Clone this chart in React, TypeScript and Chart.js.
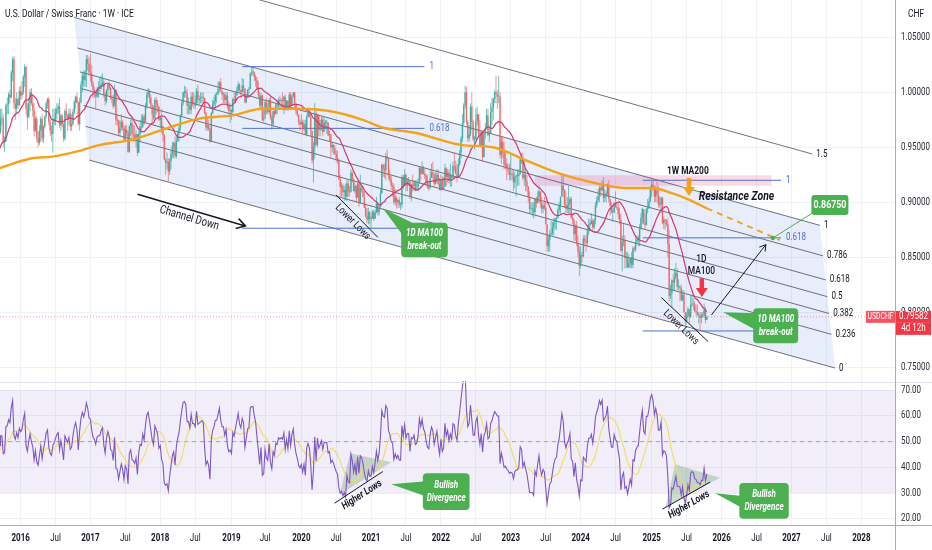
import React, { useEffect, useRef } from 'react';
import { Chart, registerables } from 'chart.js';

Chart.register(...registerables);

// ================= DATA =================
// Weekly USD/CHF (ICE) candles as [high, low, close]; each week opens at the previous close.
// First week: Monday 2 Mar 2015 (weeks before the visible range warm up the indicators).
const FIRST_OPEN = 0.955;
const w2015 = [
  [0.992,0.953,0.988],[1.013,0.988,1.008],[1.012,0.960,0.968],[0.975,0.954,0.963],[0.977,0.950,0.952],
  [0.985,0.952,0.978],[0.980,0.950,0.955],[0.962,0.945,0.952],[0.955,0.925,0.933],
  [0.940,0.920,0.923],[0.930,0.907,0.919],[0.940,0.915,0.933],[0.955,0.930,0.940],
  [0.950,0.925,0.929],[0.940,0.920,0.926],[0.935,0.910,0.915],[0.945,0.913,0.936],[0.945,0.925,0.941],
  [0.950,0.930,0.943],[0.965,0.940,0.961],[0.963,0.950,0.958],[0.975,0.955,0.969],
  [0.985,0.968,0.983],[0.990,0.965,0.974],[0.978,0.945,0.948],[0.965,0.926,0.961],[0.975,0.955,0.973],
  [0.980,0.965,0.970],[0.980,0.960,0.964],[0.985,0.962,0.976],[0.985,0.970,0.976],
  [0.980,0.950,0.954],[0.960,0.946,0.955],[0.990,0.955,0.988],[0.995,0.980,0.989],
  [1.000,0.980,0.998],[1.002,0.990,0.995],[1.020,0.995,1.018],[1.032,1.010,1.030],[1.033,0.985,0.990],
  [0.995,0.975,0.985],[1.000,0.980,0.994],[0.995,0.985,0.988],[1.005,0.988,1.001],
];
const w2016 = [
  [1.006,0.993,0.997],[1.010,0.994,1.000],[1.016,0.998,1.014],[1.026,1.005,1.023],
  [1.024,0.980,0.985],[0.990,0.966,0.977],[0.995,0.978,0.990],[1.003,0.983,1.000],[1.004,0.988,0.990],
  [0.997,0.978,0.984],[0.990,0.960,0.965],[0.978,0.964,0.976],[0.978,0.955,0.959],
  [0.965,0.950,0.954],[0.970,0.952,0.965],[0.978,0.955,0.976],[0.980,0.955,0.958],
  [0.970,0.954,0.969],[0.979,0.967,0.978],[0.992,0.976,0.990],[0.995,0.985,0.994],[0.996,0.970,0.973],
  [0.975,0.960,0.965],[0.970,0.955,0.962],[0.985,0.945,0.973],[0.985,0.970,0.976],
  [0.986,0.970,0.981],[0.990,0.975,0.985],[0.990,0.980,0.987],[0.995,0.968,0.970],
  [0.980,0.965,0.979],[0.980,0.968,0.971],[0.972,0.955,0.958],[0.985,0.956,0.983],[0.990,0.975,0.979],
  [0.980,0.965,0.976],[0.985,0.970,0.981],[0.985,0.965,0.969],[0.980,0.965,0.971],
  [0.985,0.970,0.982],[0.993,0.980,0.991],[0.997,0.985,0.996],[1.000,0.990,0.990],[0.992,0.970,0.971],
  [0.995,0.965,0.991],[1.010,0.990,1.007],[1.018,1.000,1.015],[1.020,1.005,1.011],
  [1.020,1.005,1.018],[1.034,1.005,1.030],[1.034,1.020,1.026],[1.032,1.015,1.018],
];
const w2017 = [
  [1.035,1.010,1.017],[1.025,1.005,1.008],[1.010,0.995,1.002],[1.005,0.995,1.000],[1.000,0.985,0.996],
  [1.005,0.995,1.002],[1.010,0.995,1.003],[1.013,1.000,1.003],[1.015,1.003,1.007],
  [1.017,1.005,1.009],[1.012,0.995,0.998],[1.000,0.988,0.992],[1.003,0.990,1.002],
  [1.008,0.997,1.007],[1.010,1.002,1.004],[1.005,0.993,0.995],[0.997,0.990,0.994],
  [0.998,0.985,0.987],[1.007,0.990,1.002],[1.003,0.970,0.975],[0.980,0.970,0.974],[0.975,0.960,0.963],
  [0.975,0.960,0.968],[0.980,0.965,0.973],[0.975,0.965,0.968],[0.970,0.955,0.957],
  [0.970,0.955,0.966],[0.970,0.960,0.963],[0.965,0.945,0.946],[0.970,0.945,0.969],[0.975,0.960,0.972],
  [0.975,0.955,0.962],[0.970,0.955,0.961],[0.970,0.955,0.958],[0.965,0.950,0.962],
  [0.962,0.942,0.945],[0.965,0.945,0.962],[0.975,0.955,0.969],[0.980,0.965,0.968],
  [0.980,0.970,0.978],[0.980,0.970,0.973],[0.990,0.975,0.987],[1.000,0.985,0.998],[1.004,0.995,1.001],
  [1.003,0.990,0.995],[0.998,0.985,0.988],[0.990,0.970,0.980],[0.988,0.975,0.976],
  [0.995,0.980,0.993],[0.996,0.980,0.990],[0.993,0.982,0.987],[0.987,0.974,0.975],
];
const w2018 = [
  [0.978,0.968,0.977],[0.985,0.963,0.965],[0.970,0.955,0.961],[0.962,0.938,0.939],[0.940,0.925,0.936],
  [0.945,0.930,0.937],[0.940,0.919,0.928],[0.940,0.925,0.937],[0.947,0.930,0.944],
  [0.955,0.940,0.951],[0.955,0.940,0.954],[0.960,0.940,0.942],[0.960,0.940,0.956],
  [0.965,0.955,0.963],[0.970,0.955,0.968],[0.980,0.965,0.979],[0.993,0.978,0.990],[1.000,0.988,1.000],
  [1.006,0.995,1.001],[1.005,0.995,0.999],[1.003,0.980,0.988],[0.995,0.980,0.988],
  [0.990,0.980,0.984],[1.000,0.980,0.996],[1.000,0.987,0.990],[1.000,0.985,0.990],
  [0.997,0.985,0.988],[1.004,0.990,1.001],[1.007,0.990,0.993],[0.997,0.988,0.994],[1.000,0.990,0.995],
  [1.000,0.990,0.996],[1.000,0.990,0.995],[0.995,0.980,0.981],[0.982,0.965,0.968],
  [0.976,0.965,0.970],[0.975,0.965,0.967],[0.968,0.954,0.955],[0.982,0.955,0.981],
  [0.993,0.980,0.989],[0.996,0.985,0.992],[0.999,0.985,0.998],[1.000,0.990,0.998],[1.010,0.998,1.003],
  [1.010,1.000,1.009],[1.013,1.000,1.002],[1.000,0.993,0.998],[1.000,0.990,0.998],
  [1.000,0.990,0.993],[1.000,0.990,0.997],[1.000,0.985,0.987],[0.992,0.980,0.983],
];
const w2019 = [
  [0.990,0.972,0.984],[0.985,0.975,0.982],[0.995,0.980,0.994],[1.000,0.990,0.992],[1.000,0.990,0.997],
  [1.005,0.997,1.002],[1.010,1.000,1.007],[1.008,1.000,1.002],[1.002,0.995,1.000],
  [1.013,1.000,1.006],[1.012,1.000,1.004],[1.003,0.990,0.991],[0.998,0.990,0.996],
  [1.003,0.995,1.002],[1.005,0.998,1.003],[1.018,1.003,1.017],[1.024,1.015,1.018],[1.024,1.015,1.018],
  [1.019,1.010,1.014],[1.016,1.005,1.011],[1.014,1.003,1.004],[1.010,0.995,0.997],
  [1.000,0.985,0.988],[1.000,0.985,0.997],[0.998,0.974,0.975],[0.985,0.973,0.976],
  [0.993,0.980,0.991],[0.995,0.980,0.984],[0.990,0.980,0.982],[0.995,0.980,0.993],[0.997,0.975,0.977],
  [0.980,0.966,0.971],[0.983,0.968,0.983],[0.985,0.977,0.980],[0.990,0.980,0.989],
  [0.993,0.980,0.988],[0.995,0.985,0.993],[0.997,0.985,0.992],[0.995,0.985,0.993],[1.000,0.988,0.992],
  [0.997,0.980,0.996],[0.998,0.983,0.986],[0.993,0.985,0.992],[0.993,0.983,0.986],
  [1.000,0.985,0.998],[1.000,0.988,0.988],[0.998,0.988,0.996],[1.000,0.995,1.000],
  [1.000,0.985,0.990],[0.990,0.980,0.983],[0.985,0.978,0.979],[0.980,0.970,0.973],
];
const w2020 = [
  [0.975,0.965,0.971],[0.980,0.970,0.973],[0.975,0.963,0.967],[0.975,0.965,0.971],[0.975,0.961,0.962],
  [0.980,0.960,0.978],[0.985,0.977,0.981],[0.986,0.977,0.978],[0.980,0.960,0.965],
  [0.965,0.935,0.938],[0.955,0.918,0.950],[0.990,0.940,0.981],[0.985,0.952,0.952],[0.980,0.950,0.979],
  [0.980,0.960,0.966],[0.975,0.960,0.970],[0.978,0.965,0.975],[0.978,0.960,0.964],
  [0.977,0.965,0.972],[0.975,0.967,0.972],[0.975,0.962,0.972],[0.973,0.960,0.961],
  [0.965,0.955,0.962],[0.960,0.940,0.950],[0.955,0.945,0.952],[0.953,0.943,0.949],[0.952,0.943,0.944],
  [0.947,0.937,0.940],[0.947,0.935,0.937],[0.940,0.920,0.921],[0.925,0.905,0.914],
  [0.918,0.905,0.915],[0.917,0.905,0.909],[0.915,0.901,0.911],[0.917,0.902,0.905],[0.920,0.901,0.917],
  [0.920,0.905,0.910],[0.915,0.905,0.909],[0.930,0.910,0.927],[0.928,0.918,0.921],
  [0.922,0.910,0.910],[0.918,0.908,0.915],[0.915,0.900,0.904],[0.920,0.905,0.917],
  [0.920,0.896,0.899],[0.925,0.899,0.913],[0.916,0.909,0.911],[0.915,0.905,0.905],[0.910,0.895,0.895],
  [0.898,0.886,0.887],[0.895,0.881,0.884],[0.895,0.880,0.891],[0.892,0.880,0.885],
];
const w2021 = [
  [0.887,0.876,0.885],[0.893,0.885,0.891],[0.893,0.883,0.885],[0.893,0.885,0.891],
  [0.905,0.890,0.899],[0.900,0.888,0.891],[0.898,0.888,0.896],[0.913,0.895,0.908],
  [0.935,0.908,0.934],[0.935,0.923,0.930],[0.935,0.922,0.929],[0.945,0.920,0.942],[0.948,0.938,0.940],
  [0.940,0.920,0.924],[0.930,0.918,0.921],[0.924,0.911,0.915],[0.918,0.905,0.914],
  [0.917,0.898,0.900],[0.912,0.897,0.904],[0.906,0.894,0.900],[0.903,0.895,0.902],[0.905,0.895,0.898],
  [0.900,0.893,0.898],[0.925,0.895,0.923],[0.925,0.912,0.915],[0.930,0.915,0.925],
  [0.926,0.910,0.915],[0.922,0.910,0.919],[0.923,0.915,0.919],[0.920,0.903,0.905],
  [0.917,0.901,0.916],[0.925,0.910,0.915],[0.920,0.910,0.918],[0.920,0.910,0.911],[0.920,0.911,0.912],
  [0.922,0.914,0.917],[0.932,0.918,0.931],[0.932,0.920,0.926],[0.937,0.925,0.932],
  [0.933,0.925,0.926],[0.930,0.921,0.924],[0.926,0.915,0.918],[0.925,0.912,0.914],
  [0.918,0.910,0.913],[0.930,0.912,0.922],[0.935,0.922,0.927],[0.937,0.921,0.925],[0.927,0.914,0.917],
  [0.927,0.916,0.921],[0.930,0.917,0.925],[0.930,0.915,0.917],[0.922,0.911,0.911],
];
const w2022 = [
  [0.925,0.911,0.920],[0.924,0.911,0.912],[0.923,0.912,0.914],[0.935,0.914,0.931],[0.932,0.915,0.923],
  [0.930,0.918,0.927],[0.930,0.917,0.920],[0.935,0.914,0.925],[0.925,0.914,0.922],
  [0.937,0.922,0.933],[0.945,0.928,0.932],[0.938,0.925,0.926],[0.935,0.918,0.923],
  [0.940,0.923,0.935],[0.948,0.933,0.945],[0.960,0.940,0.958],[0.980,0.955,0.972],
  [0.990,0.970,0.988],[1.006,0.985,1.000],[1.005,0.970,0.973],[0.975,0.955,0.958],[0.970,0.955,0.962],
  [0.990,0.960,0.987],[1.000,0.966,0.973],[0.975,0.955,0.957],[0.960,0.948,0.957],
  [0.985,0.957,0.974],[0.987,0.970,0.980],[0.980,0.960,0.962],[0.975,0.950,0.951],
  [0.965,0.952,0.964],[0.965,0.937,0.941],[0.964,0.941,0.962],[0.972,0.958,0.967],[0.985,0.966,0.979],
  [0.985,0.960,0.961],[0.970,0.955,0.963],[0.990,0.963,0.982],[0.995,0.970,0.986],
  [0.995,0.975,0.994],[1.002,0.990,1.000],[1.015,0.990,0.998],[1.002,0.985,0.996],[1.015,0.990,0.996],
  [1.000,0.940,0.943],[0.960,0.935,0.955],[0.960,0.940,0.946],[0.955,0.930,0.934],
  [0.945,0.930,0.935],[0.940,0.920,0.931],[0.935,0.925,0.929],[0.935,0.920,0.925],
];
const w2023 = [
  [0.945,0.920,0.926],[0.930,0.920,0.925],[0.930,0.910,0.918],[0.928,0.913,0.923],[0.925,0.905,0.924],
  [0.930,0.915,0.924],[0.930,0.915,0.926],[0.940,0.925,0.939],[0.945,0.935,0.937],
  [0.945,0.920,0.922],[0.940,0.915,0.925],[0.930,0.910,0.919],[0.925,0.910,0.914],
  [0.915,0.900,0.905],[0.910,0.890,0.894],[0.900,0.890,0.894],[0.900,0.887,0.894],
  [0.900,0.885,0.891],[0.903,0.887,0.903],[0.905,0.895,0.899],[0.910,0.900,0.905],[0.915,0.900,0.910],
  [0.910,0.895,0.899],[0.905,0.890,0.894],[0.900,0.890,0.897],[0.905,0.893,0.895],
  [0.900,0.880,0.880],[0.880,0.855,0.860],[0.870,0.855,0.866],[0.875,0.855,0.871],[0.883,0.870,0.872],
  [0.882,0.870,0.877],[0.886,0.870,0.882],[0.886,0.875,0.885],[0.887,0.875,0.886],
  [0.895,0.885,0.893],[0.900,0.890,0.897],[0.905,0.890,0.905],[0.925,0.905,0.915],
  [0.924,0.905,0.911],[0.912,0.895,0.898],[0.910,0.890,0.894],[0.905,0.890,0.897],[0.915,0.890,0.899],
  [0.905,0.890,0.903],[0.905,0.885,0.886],[0.890,0.880,0.884],[0.885,0.865,0.871],
  [0.880,0.865,0.879],[0.883,0.860,0.863],[0.870,0.850,0.855],[0.860,0.833,0.842],
];
const w2024 = [
  [0.860,0.840,0.852],[0.855,0.845,0.851],[0.870,0.850,0.867],[0.870,0.860,0.865],[0.870,0.855,0.863],
  [0.877,0.860,0.874],[0.885,0.870,0.880],[0.885,0.875,0.880],[0.890,0.880,0.883],
  [0.885,0.875,0.877],[0.885,0.875,0.884],[0.900,0.880,0.897],[0.905,0.895,0.902],
  [0.912,0.900,0.906],[0.915,0.900,0.913],[0.915,0.905,0.911],[0.920,0.910,0.915],[0.923,0.900,0.904],
  [0.912,0.900,0.906],[0.910,0.900,0.908],[0.917,0.905,0.916],[0.920,0.900,0.903],
  [0.903,0.888,0.897],[0.900,0.890,0.891],[0.895,0.882,0.891],[0.900,0.890,0.899],
  [0.910,0.895,0.896],[0.900,0.893,0.895],[0.900,0.885,0.889],[0.895,0.880,0.884],[0.890,0.855,0.856],
  [0.870,0.837,0.864],[0.880,0.860,0.866],[0.870,0.840,0.849],[0.855,0.840,0.850],
  [0.855,0.840,0.841],[0.853,0.840,0.845],[0.850,0.840,0.849],[0.855,0.840,0.843],[0.860,0.840,0.858],
  [0.860,0.855,0.857],[0.868,0.855,0.864],[0.869,0.862,0.866],[0.870,0.860,0.867],
  [0.880,0.860,0.876],[0.890,0.875,0.886],[0.895,0.880,0.894],[0.893,0.880,0.881],
  [0.890,0.875,0.879],[0.895,0.880,0.894],[0.903,0.890,0.894],[0.905,0.895,0.901],[0.915,0.900,0.912],
];
const w2025 = [
  [0.920,0.905,0.916],[0.920,0.910,0.913],[0.915,0.900,0.905],[0.915,0.900,0.911],
  [0.920,0.900,0.907],[0.915,0.895,0.898],[0.905,0.895,0.898],[0.905,0.890,0.904],
  [0.905,0.880,0.881],[0.887,0.876,0.884],[0.885,0.875,0.883],[0.885,0.878,0.880],[0.885,0.850,0.862],
  [0.875,0.810,0.815],[0.825,0.812,0.817],[0.830,0.804,0.829],[0.835,0.820,0.827],
  [0.840,0.820,0.832],[0.845,0.830,0.836],[0.840,0.820,0.823],[0.830,0.820,0.823],
  [0.825,0.810,0.822],[0.825,0.810,0.811],[0.820,0.810,0.816],[0.820,0.800,0.800],[0.800,0.787,0.792],
  [0.800,0.790,0.797],[0.805,0.795,0.803],[0.800,0.790,0.796],[0.815,0.795,0.807],
  [0.815,0.805,0.808],[0.812,0.802,0.807],[0.810,0.800,0.801],[0.807,0.797,0.800],
  [0.807,0.797,0.797],[0.800,0.790,0.797],[0.800,0.783,0.795],[0.800,0.790,0.797],[0.800,0.795,0.797],
  [0.808,0.795,0.802],[0.805,0.790,0.793],[0.797,0.793,0.7958],
];

// 1W MA200 (orange): decimal year / value
const ma200Time = [2015.70, 2016.17, 2016.46, 2016.80, 2017.13, 2017.60, 2018.08, 2018.56, 2019.03, 2019.46, 2019.94, 2020.41, 2020.89, 2021.17, 2021.65, 2022.31, 2022.75, 2023.22, 2023.70, 2024.17, 2024.65, 2025.03, 2025.31, 2025.56, 2025.80];
const ma200Value = [0.931, 0.940, 0.9415, 0.946, 0.952, 0.957, 0.967, 0.976, 0.979, 0.985, 0.985, 0.983, 0.975, 0.968, 0.963, 0.952, 0.950, 0.938, 0.926, 0.918, 0.913, 0.913, 0.908, 0.902, 0.8945];
const ma200ProjTime = [2025.80, 2026.843];
const ma200ProjValue = [0.8945, 0.8657];

// Fib channel: level-0 start (A), level-0 end (B), level-1 start (C) as [decimal year, price]
const channelA = [2016.986, 0.9384];
const channelB = [2027.629, 0.7493];
const channelC = [2016.771, 1.0681];
const channelLevels = [0, 0.236, 0.382, 0.5, 0.618, 0.786, 1, 1.5];
const channelLabels = ['0', '0.236', '0.382', '0.5', '0.618', '0.786', '1', '1.5'];

// Fib retracements (blue)
const fibLevels = [0, 0.618, 1];
const fibLabels = ['0', '0.618', '1'];
const fibLeftTime = [2019.171, 2021.771];
const fibLeftPrice = [0.8764, 1.0233];
const fibRightTime = [2024.886, 2026.859];
const fibRightPrice = [0.7830, 0.9200];

// Resistance zone rectangle
const zoneTime = [2023.343, 2026.724];
const zonePrice = [0.9150, 0.9245];

// Target
const targetTime = 2026.743;
const targetPrice = 0.8675;
const targetText = '0.86750';

// Axis ticks / labels
const priceTicks = [0.75, 0.8, 0.85, 0.9, 0.95, 1.0, 1.05];
const rsiTicks = [20, 30, 40, 50, 60, 70];
const TITLE = 'U.S. Dollar / Swiss Franc · 1W · ICE';
const CURRENCY = 'CHF';
const SYMBOL = 'USDCHF';
const LAST_PRICE = 0.79582;
const LAST_PRICE_TEXT = '0.79582';
const COUNTDOWN = '4d 12h';

// ================= LAYOUT / STYLE =================
const W = 932;
const PRICE_H = 381;
const RSI_H = 169;
const AXIS_W = 37;
const PLOT_W = W - AXIS_W;
const X_MIN = 2015.713;
const X_MAX = X_MIN + PLOT_W / 70.07;
const P_MIN = 0.7375;
const P_MAX = 1.0839;
const R_MIN = 17.67;
const R_MAX = 73.49;

const FONT = 'Roboto, "Noto Sans", sans-serif';
const SX = 0.8;
const INK = '#131722';
const GRID = '#eef1f6';
const AXIS_LINE = '#a9acb5';
const UP = 'rgba(38,166,154,0.72)';
const DOWN = 'rgba(239,83,80,0.68)';
const RED_MA = '#d9346c';
const ORANGE = '#f5a21b';
const CH_LINE = 'rgba(70,72,82,0.85)';
const CH_FILL = 'rgba(90,125,235,0.14)';
const FIB_BLUE = '#4f6fd6';
const ZONE = 'rgba(233,30,99,0.17)';
const GREEN = '#4caf50';
const RSI_COL = '#7e57c2';
const RSI_MA_COL = '#f0db62';

// ================= DERIVED SERIES =================
const weekly = [...w2015, ...w2016, ...w2017, ...w2018, ...w2019, ...w2020, ...w2021, ...w2022, ...w2023, ...w2024, ...w2025];
const DAY = 86400000;
const decYear = (ms: number) => {
  const y = new Date(ms).getUTCFullYear();
  const s = Date.UTC(y, 0, 1);
  const e = Date.UTC(y + 1, 0, 1);
  return y + (ms - s) / (e - s);
};
const START = Date.UTC(2015, 2, 2);
const candles = weekly.map((w, i) => ({
  t: decYear(START + i * 7 * DAY),
  o: i === 0 ? FIRST_OPEN : weekly[i - 1][2],
  h: w[0],
  l: w[1],
  c: w[2],
}));
const closes = candles.map((c) => c.c);

function sma(vals: (number | null)[], n: number) {
  return vals.map((_, i) => {
    if (i < n - 1) return null;
    let s = 0;
    for (let k = i - n + 1; k <= i; k++) {
      const v = vals[k];
      if (v == null) return null;
      s += v;
    }
    return s / n;
  });
}
function rsiOf(v: number[], n: number) {
  const out: (number | null)[] = v.map(() => null);
  let g = 0, l = 0;
  for (let i = 1; i <= n; i++) {
    const d = v[i] - v[i - 1];
    if (d > 0) g += d; else l -= d;
  }
  g /= n; l /= n;
  out[n] = l === 0 ? 100 : 100 - 100 / (1 + g / l);
  for (let i = n + 1; i < v.length; i++) {
    const d = v[i] - v[i - 1];
    g = (g * (n - 1) + Math.max(d, 0)) / n;
    l = (l * (n - 1) + Math.max(-d, 0)) / n;
    out[i] = l === 0 ? 100 : 100 - 100 / (1 + g / l);
  }
  return out;
}
const ma100d = sma(closes, 20); // 1D MA100 ≈ 20 weekly bars
const rsi = rsiOf(closes, 14);
const rsiMa = sma(rsi, 14);

const timeTicks: { v: number; label: string; major: boolean }[] = [];
for (let y = 2015; y <= 2029; y++) {
  for (const m of [0, 6]) {
    const d = new Date(Date.UTC(y, m, 1));
    const add = (8 - d.getUTCDay()) % 7;
    const v = decYear(Date.UTC(y, m, 1 + add));
    if (v > X_MIN && v < X_MAX) timeTicks.push({ v, label: m === 0 ? String(y) : 'Jul', major: m === 0 });
  }
}

const chPoint = (base: number[], L: number) => ({
  x: base[0] + L * (channelC[0] - channelA[0]),
  y: base[1] + L * (channelC[1] - channelA[1]),
});
const chLine = (L: number) => [chPoint(channelA, L), chPoint(channelB, L)];

// ================= ANNOTATIONS (anchored in data space) =================
const priceNotes = {
  channelArrow: [[2017.676, 0.9073], [2019.214, 0.8785]],
  channelText: { t: 2018.414, v: 0.8855, angle: 16.4 },
  lowerLowsL: [[2020.51, 0.9066], [2021.104, 0.8682]],
  lowerLowsLText: { t: 2020.747, v: 0.8821, angle: 45 },
  lowerLowsR: [[2025.153, 0.8133], [2025.819, 0.7733]],
  lowerLowsRText: { t: 2025.433, v: 0.7862, angle: 44 },
  targetArrow: [[2025.867, 0.7976], [2026.643, 0.8615]],
  ma200Text: { t: 2025.529, v: 0.9278 },
  orangeArrow: { t: 2025.547, top: 0.9221, tip: 0.9057 },
  zoneText: { t: 2026.224, v: 0.9051 },
  ma100Text: { t: 2025.724, v1: 0.8477, v2: 0.837 },
  redArrow: { t: 2025.729, top: 0.8309, tip: 0.8139 },
  targetBox: { t: 2027.557, v: 0.8975, w: 37, h: 20 },
};
const priceCallouts = [
  { t: 2021.771, v: 0.8657, w: 46.6, h: 34.6, tipT: 2021.176, tipV: 0.8945, wedge: [[2, 13], [15, 2]], lines: ['1D MA100', 'break-out'] },
  { t: 2026.783, v: 0.7877, w: 45, h: 35, tipT: 2026.033, tipV: 0.8, wedge: [[3, 5], [3, 22]], lines: ['1D MA100', 'break-out'] },
];
const rsiNotes = {
  triangles: [
    [[2020.557, 29.35], [2020.71, 45.5], [2021.296, 42.0]],
    [[2025.214, 24.8], [2025.347, 41.2], [2025.99, 36.0]],
  ],
  lines: [
    [[2020.486, 26.1], [2021.176, 38.4]],
    [[2025.167, 23.8], [2025.847, 34.3]],
  ],
  texts: [
    { t: 2020.879, v: 29.35, angle: -33 },
    { t: 2025.546, v: 25.5, angle: -30 },
  ],
  callouts: [
    { t: 2022.081, v: 30.6, w: 46.7, h: 36.7, tipT: 2021.296, tipV: 33.5, wedge: [[3, 8], [3, 23]], lines: ['Bullish', 'Divergence'] },
    { t: 2026.617, v: 27.0, w: 49.4, h: 35.7, tipT: 2025.919, tipV: 30.0, wedge: [[3, 13], [3, 25]], lines: ['Bullish', 'Divergence'] },
  ],
};

// ================= DRAW HELPERS =================
function txt(ctx: CanvasRenderingContext2D, s: string, x: number, y: number, o: any = {}) {
  ctx.save();
  ctx.translate(x, y);
  if (o.angle) ctx.rotate((o.angle * Math.PI) / 180);
  ctx.scale(o.sx ?? SX, 1);
  ctx.font = `${o.italic ? 'italic ' : ''}${o.weight ?? 400} ${o.size ?? 10}px ${FONT}`;
  ctx.fillStyle = o.color ?? INK;
  ctx.textAlign = o.align ?? 'center';
  ctx.textBaseline = 'middle';
  ctx.fillText(s, 0, 0);
  ctx.restore();
}
function poly(ctx: CanvasRenderingContext2D, pts: number[][], color: string) {
  ctx.beginPath();
  pts.forEach(([x, y], i) => (i ? ctx.lineTo(x, y) : ctx.moveTo(x, y)));
  ctx.closePath();
  ctx.fillStyle = color;
  ctx.fill();
}
function seg(ctx: CanvasRenderingContext2D, x0: number, y0: number, x1: number, y1: number, color: string, w: number) {
  ctx.save();
  ctx.strokeStyle = color;
  ctx.lineWidth = w;
  ctx.beginPath();
  ctx.moveTo(x0, y0);
  ctx.lineTo(x1, y1);
  ctx.stroke();
  ctx.restore();
}
function arrowHead(ctx: CanvasRenderingContext2D, x0: number, y0: number, x1: number, y1: number, len: number, color: string, w: number) {
  const a = Math.atan2(y1 - y0, x1 - x0);
  ctx.save();
  ctx.strokeStyle = color;
  ctx.lineWidth = w;
  ctx.beginPath();
  ctx.moveTo(x1 - len * Math.cos(a - 0.55), y1 - len * Math.sin(a - 0.55));
  ctx.lineTo(x1, y1);
  ctx.lineTo(x1 - len * Math.cos(a + 0.55), y1 - len * Math.sin(a + 0.55));
  ctx.stroke();
  ctx.restore();
}
function downArrow(ctx: CanvasRenderingContext2D, x: number, yTop: number, yTip: number, color: string) {
  const headH = 9, headW = 12, shaftW = 4.5;
  ctx.fillStyle = color;
  ctx.fillRect(x - shaftW / 2, yTop, shaftW, yTip - headH - yTop + 0.5);
  ctx.beginPath();
  ctx.moveTo(x - headW / 2, yTip - headH);
  ctx.lineTo(x + headW / 2, yTip - headH);
  ctx.lineTo(x, yTip);
  ctx.closePath();
  ctx.fill();
}
function roundRect(ctx: CanvasRenderingContext2D, x: number, y: number, w: number, h: number, r: number) {
  ctx.beginPath();
  ctx.moveTo(x + r, y);
  ctx.arcTo(x + w, y, x + w, y + h, r);
  ctx.arcTo(x + w, y + h, x, y + h, r);
  ctx.arcTo(x, y + h, x, y, r);
  ctx.arcTo(x, y, x + w, y, r);
  ctx.closePath();
}
function callout(ctx: CanvasRenderingContext2D, X: (t: number) => number, Y: (v: number) => number, c: any) {
  const cx = X(c.t), cy = Y(c.v);
  const left = cx - c.w / 2, top = cy - c.h / 2;
  ctx.fillStyle = GREEN;
  ctx.beginPath();
  ctx.moveTo(X(c.tipT), Y(c.tipV));
  ctx.lineTo(left + c.wedge[0][0], top + c.wedge[0][1]);
  ctx.lineTo(left + c.wedge[1][0], top + c.wedge[1][1]);
  ctx.closePath();
  ctx.fill();
  roundRect(ctx, left, top, c.w, c.h, 4);
  ctx.fill();
  txt(ctx, c.lines[0], cx, cy - 6.5, { size: 10, weight: 700, italic: true, color: '#fff' });
  txt(ctx, c.lines[1], cx, cy + 6.5, { size: 10, weight: 700, italic: true, color: '#fff' });
}

const line = (data: any[], color: string, width: number, order: number, extra: any = {}) => ({
  type: 'line',
  data,
  borderColor: color,
  backgroundColor: color,
  borderWidth: width,
  pointRadius: 0,
  pointHoverRadius: 0,
  fill: false,
  tension: 0,
  order,
  clip: 0,
  ...extra,
});
const pts = (arr: number[][]) => arr.map(([x, y]) => ({ x, y }));

const xScale = (hideHeight: boolean) => ({
  type: 'linear',
  min: X_MIN,
  max: X_MAX,
  offset: false,
  grid: { color: GRID, drawTicks: false, offset: false },
  border: { display: false },
  ticks: { display: false },
  afterBuildTicks: (s: any) => { s.ticks = timeTicks.map((k) => ({ value: k.v })); },
  afterFit: (s: any) => { s.height = hideHeight ? 0 : RSI_H - 144; },
});

// ================= PRICE CHART =================
function priceConfig(): any {
  const colors = candles.map((c) => (c.c >= c.o ? UP : DOWN));
  const datasets: any[] = [];
  channelLevels.forEach((L) => datasets.push(line(chLine(L), CH_LINE, 0.9, 40)));
  [[fibLeftTime, fibLeftPrice], [fibRightTime, fibRightPrice]].forEach(([tm, pr]) =>
    fibLevels.forEach((L) => {
      const p = pr[0] + L * (pr[1] - pr[0]);
      datasets.push(line([{ x: tm[0], y: p }, { x: tm[1], y: p }], FIB_BLUE, 1, 39));
    }),
  );
  datasets.push({
    type: 'bar', data: candles.map((c) => ({ x: c.t, y: [c.l, c.h] })), backgroundColor: colors,
    barThickness: 0.9, grouped: false, borderWidth: 0, inflateAmount: 0, minBarLength: 1, order: 30, clip: 0,
  });
  datasets.push({
    type: 'bar', data: candles.map((c) => ({ x: c.t, y: [Math.min(c.o, c.c), Math.max(c.o, c.c)] })), backgroundColor: colors,
    barThickness: 1.5, grouped: false, borderWidth: 0, inflateAmount: 0, minBarLength: 1, order: 29, clip: 0,
  });
  datasets.push(line(candles.map((c, i) => ({ x: c.t, y: ma100d[i] })).filter((p) => p.y != null), RED_MA, 1.2, 20, { cubicInterpolationMode: 'monotone' }));
  datasets.push(line(ma200Time.map((t, i) => ({ x: t, y: ma200Value[i] })), ORANGE, 2.4, 19, { cubicInterpolationMode: 'monotone' }));
  datasets.push(line(ma200ProjTime.map((t, i) => ({ x: t, y: ma200ProjValue[i] })), ORANGE, 2, 19, { borderDash: [6, 5] }));
  datasets.push(line(pts(priceNotes.channelArrow), INK, 1.6, 5));
  datasets.push(line(pts(priceNotes.lowerLowsL), INK, 1, 5));
  datasets.push(line(pts(priceNotes.lowerLowsR), INK, 1, 5));
  datasets.push(line(pts(priceNotes.targetArrow), INK, 1, 5));

  const overlay = {
    id: 'priceOverlay',
    beforeDatasetsDraw(chart: any) {
      const { ctx, chartArea: a, scales } = chart;
      const X = (t: number) => scales.x.getPixelForValue(t);
      const Y = (v: number) => scales.y.getPixelForValue(v);
      ctx.save();
      ctx.beginPath();
      ctx.rect(a.left, a.top, a.right - a.left, a.bottom - a.top);
      ctx.clip();
      const l1 = chLine(1), l0 = chLine(0);
      poly(ctx, [l1[0], l1[1], l0[1], l0[0]].map((p) => [X(p.x), Y(p.y)]), CH_FILL);
      poly(ctx, [[X(zoneTime[0]), Y(zonePrice[1])], [X(zoneTime[1]), Y(zonePrice[1])], [X(zoneTime[1]), Y(zonePrice[0])], [X(zoneTime[0]), Y(zonePrice[0])]], ZONE);
      ctx.restore();
    },
    afterDatasetsDraw(chart: any) {
      const { ctx, scales } = chart;
      const X = (t: number) => scales.x.getPixelForValue(t);
      const Y = (v: number) => scales.y.getPixelForValue(v);
      const n = priceNotes;
      ctx.save();
      ctx.setLineDash([1, 2]);
      seg(ctx, 0, Y(LAST_PRICE), PLOT_W, Y(LAST_PRICE), 'rgba(242,54,69,0.55)', 1);
      ctx.restore();
      channelLevels.forEach((L, i) => {
        const e = chLine(L)[1];
        txt(ctx, channelLabels[i], X(e.x) + 4, Y(e.y), { size: 10, align: 'left' });
      });
      [[fibLeftTime, fibLeftPrice], [fibRightTime, fibRightPrice]].forEach(([tm, pr]) =>
        fibLevels.forEach((L, i) => {
          const p = pr[0] + L * (pr[1] - pr[0]);
          txt(ctx, fibLabels[i], X(tm[1]) + 5, Y(p), { size: 10, align: 'left', color: FIB_BLUE });
        }),
      );
      const ca = n.channelArrow;
      arrowHead(ctx, X(ca[0][0]), Y(ca[0][1]), X(ca[1][0]), Y(ca[1][1]), 10, INK, 1.6);
      const ta = n.targetArrow;
      arrowHead(ctx, X(ta[0][0]), Y(ta[0][1]), X(ta[1][0]), Y(ta[1][1]), 7, INK, 1);
      txt(ctx, 'Channel Down', X(n.channelText.t), Y(n.channelText.v), { size: 12, angle: n.channelText.angle });
      txt(ctx, 'Lower Lows', X(n.lowerLowsLText.t), Y(n.lowerLowsLText.v), { size: 10.5, angle: n.lowerLowsLText.angle });
      txt(ctx, 'Lower Lows', X(n.lowerLowsRText.t), Y(n.lowerLowsRText.v), { size: 10.5, angle: n.lowerLowsRText.angle });
      txt(ctx, '1W MA200', X(n.ma200Text.t), Y(n.ma200Text.v), { size: 10.5, weight: 700 });
      downArrow(ctx, X(n.orangeArrow.t), Y(n.orangeArrow.top), Y(n.orangeArrow.tip), ORANGE);
      txt(ctx, 'Resistance Zone', X(n.zoneText.t), Y(n.zoneText.v), { size: 13, weight: 700, italic: true });
      txt(ctx, '1D', X(n.ma100Text.t), Y(n.ma100Text.v1), { size: 10.5, weight: 500 });
      txt(ctx, 'MA100', X(n.ma100Text.t), Y(n.ma100Text.v2), { size: 10.5, weight: 500 });
      downArrow(ctx, X(n.redArrow.t), Y(n.redArrow.top), Y(n.redArrow.tip), '#f23645');
      const tb = n.targetBox;
      const bx = X(tb.t) - tb.w / 2, by = Y(tb.v) - tb.h / 2;
      seg(ctx, X(targetTime), Y(targetPrice), bx + 1, by + tb.h - 2, GREEN, 1);
      ctx.fillStyle = GREEN;
      ctx.beginPath();
      ctx.arc(X(targetTime), Y(targetPrice), 2.2, 0, Math.PI * 2);
      ctx.fill();
      roundRect(ctx, bx, by, tb.w, tb.h, 3);
      ctx.fill();
      txt(ctx, targetText, X(tb.t), Y(tb.v), { size: 11, weight: 700, color: '#fff' });
      priceCallouts.forEach((c) => callout(ctx, X, Y, c));
    },
    afterDraw(chart: any) {
      const { ctx, scales } = chart;
      const Y = (v: number) => scales.y.getPixelForValue(v);
      seg(ctx, PLOT_W + 0.5, 0, PLOT_W + 0.5, PRICE_H, AXIS_LINE, 1);
      txt(ctx, TITLE, 5, 14, { size: 10.5, align: 'left' });
      txt(ctx, CURRENCY, PLOT_W + 13, 14, { size: 10.5, align: 'left' });
      priceTicks.forEach((p) => txt(ctx, p.toFixed(5), PLOT_W + 6, Y(p), { size: 10, align: 'left', color: '#2a2e39' }));
      const yp = Y(LAST_PRICE);
      ctx.fillStyle = '#f7525f';
      ctx.fillRect(PLOT_W - 29, yp - 6, 29, 12);
      ctx.fillStyle = '#f23645';
      ctx.fillRect(PLOT_W + 1, yp - 6, 35, 12);
      ctx.fillRect(PLOT_W + 1, yp + 6, 35, 12);
      txt(ctx, SYMBOL, PLOT_W - 14.5, yp, { size: 9.5, color: '#fff', sx: 0.72 });
      txt(ctx, LAST_PRICE_TEXT, PLOT_W + 18.5, yp, { size: 10, color: '#fff' });
      txt(ctx, COUNTDOWN, PLOT_W + 18.5, yp + 12, { size: 10, color: '#fff' });
    },
  };

  return {
    type: 'bar',
    data: { datasets },
    options: {
      responsive: false,
      animation: false,
      events: [],
      layout: { padding: 0 },
      plugins: { legend: { display: false }, tooltip: { enabled: false } },
      scales: {
        x: xScale(true),
        y: {
          type: 'linear',
          position: 'right',
          min: P_MIN,
          max: P_MAX,
          grid: { color: GRID, drawTicks: false },
          border: { display: false },
          ticks: { display: false },
          afterBuildTicks: (s: any) => { s.ticks = priceTicks.map((v) => ({ value: v })); },
          afterFit: (s: any) => { s.width = AXIS_W; },
        },
      },
    },
    plugins: [overlay],
  };
}

// ================= RSI CHART =================
function rsiConfig(): any {
  const datasets: any[] = [];
  datasets.push(line([{ x: X_MIN, y: 50 }, { x: X_MAX, y: 50 }], 'rgba(120,123,134,0.6)', 1, 30, { borderDash: [4, 4] }));
  datasets.push(line(candles.map((c, i) => ({ x: c.t, y: rsiMa[i] })).filter((p) => p.y != null), RSI_MA_COL, 1.1, 20, { cubicInterpolationMode: 'monotone' }));
  datasets.push(line(candles.map((c, i) => ({ x: c.t, y: rsi[i] })).filter((p) => p.y != null), RSI_COL, 1.1, 19));
  rsiNotes.lines.forEach((l) => datasets.push(line(pts(l), INK, 1, 5)));

  const overlay = {
    id: 'rsiOverlay',
    beforeDatasetsDraw(chart: any) {
      const { ctx, scales } = chart;
      const X = (t: number) => scales.x.getPixelForValue(t);
      const Y = (v: number) => scales.y.getPixelForValue(v);
      poly(ctx, [[X(X_MIN), Y(70)], [X(X_MAX), Y(70)], [X(X_MAX), Y(30)], [X(X_MIN), Y(30)]], 'rgba(126,87,194,0.1)');
      rsiNotes.triangles.forEach((tr) => poly(ctx, tr.map(([t, v]) => [X(t), Y(v)]), 'rgba(110,160,110,0.35)'));
    },
    afterDatasetsDraw(chart: any) {
      const { ctx, scales } = chart;
      const X = (t: number) => scales.x.getPixelForValue(t);
      const Y = (v: number) => scales.y.getPixelForValue(v);
      rsiNotes.texts.forEach((t) => txt(ctx, 'Higher Lows', X(t.t), Y(t.v), { size: 10.5, weight: 700, italic: true, angle: t.angle }));
      rsiNotes.callouts.forEach((c) => callout(ctx, X, Y, c));
    },
    afterDraw(chart: any) {
      const { ctx, scales, chartArea } = chart;
      const X = (t: number) => scales.x.getPixelForValue(t);
      const Y = (v: number) => scales.y.getPixelForValue(v);
      seg(ctx, 0, 1.5, W, 1.5, '#e0e3eb', 1);
      seg(ctx, 0, chartArea.bottom + 0.5, W, chartArea.bottom + 0.5, AXIS_LINE, 1);
      seg(ctx, PLOT_W + 0.5, 0, PLOT_W + 0.5, RSI_H, AXIS_LINE, 1);
      rsiTicks.forEach((r) => txt(ctx, r.toFixed(2), PLOT_W + 6, Y(r), { size: 10, align: 'left', color: '#2a2e39' }));
      timeTicks.forEach((k) => txt(ctx, k.label, X(k.v), chartArea.bottom + 13, { size: 10, weight: k.major ? 700 : 400 }));
    },
  };

  return {
    type: 'line',
    data: { datasets },
    options: {
      responsive: false,
      animation: false,
      events: [],
      layout: { padding: 0 },
      plugins: { legend: { display: false }, tooltip: { enabled: false } },
      scales: {
        x: xScale(false),
        y: {
          type: 'linear',
          position: 'right',
          min: R_MIN,
          max: R_MAX,
          grid: { color: GRID, drawTicks: false },
          border: { display: false },
          ticks: { display: false },
          afterBuildTicks: (s: any) => { s.ticks = rsiTicks.map((v) => ({ value: v })); },
          afterFit: (s: any) => { s.width = AXIS_W; },
        },
      },
    },
    plugins: [overlay],
  };
}

export default function App() {
  const pRef = useRef<HTMLCanvasElement>(null);
  const rRef = useRef<HTMLCanvasElement>(null);
  useEffect(() => {
    document.body.style.margin = '0';
    const c1 = new Chart(pRef.current as HTMLCanvasElement, priceConfig());
    const c2 = new Chart(rRef.current as HTMLCanvasElement, rsiConfig());
    return () => {
      c1.destroy();
      c2.destroy();
    };
  }, []);
  return (
    <div style={{ width: W, height: PRICE_H + RSI_H, position: 'relative', background: '#fff', overflow: 'hidden' }}>
      <canvas ref={pRef} width={W} height={PRICE_H} style={{ position: 'absolute', left: 0, top: 0, width: W, height: PRICE_H }} />
      <canvas ref={rRef} width={W} height={RSI_H} style={{ position: 'absolute', left: 0, top: PRICE_H, width: W, height: RSI_H }} />
    </div>
  );
}
